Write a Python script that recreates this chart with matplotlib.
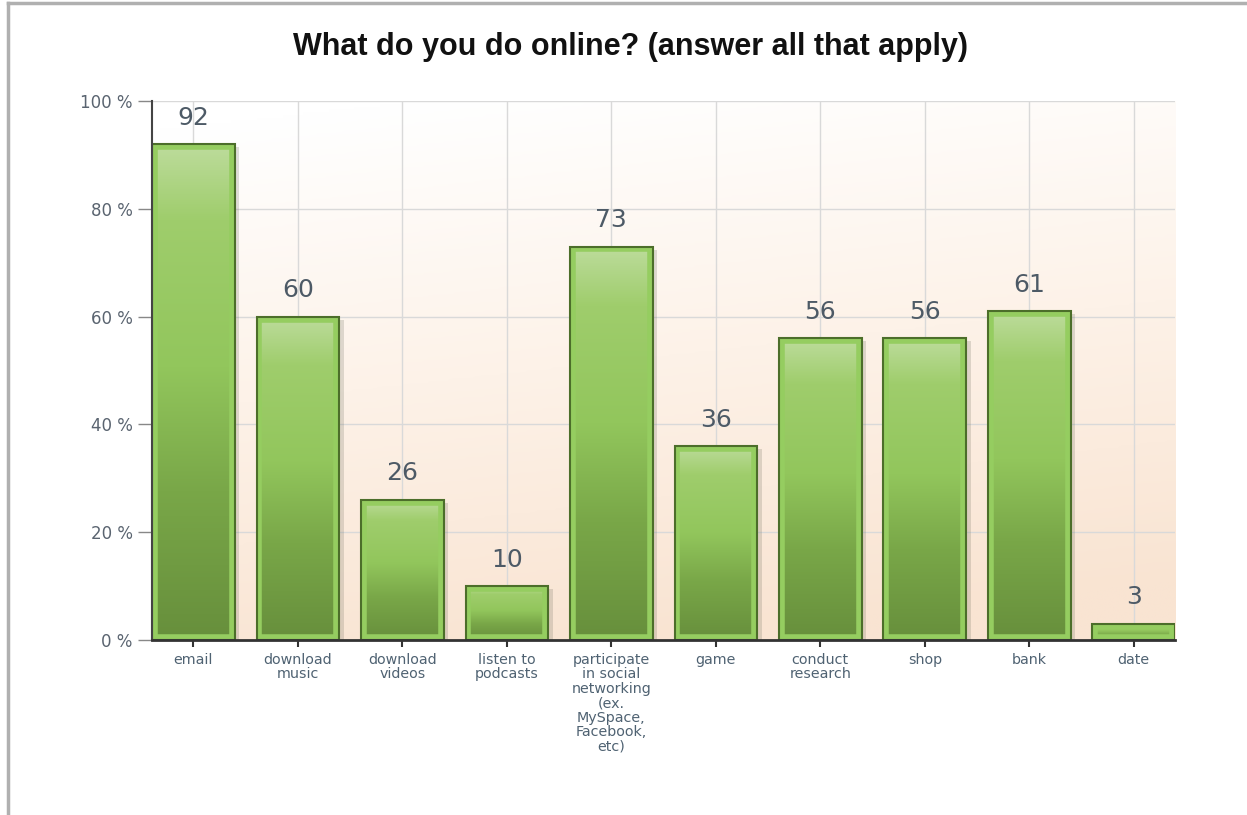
import matplotlib
matplotlib.use("Agg")
import matplotlib.pyplot as plt
import numpy as np
from matplotlib.colors import LinearSegmentedColormap
from matplotlib.patches import Rectangle
from matplotlib.lines import Line2D

categories = [
    "email", "download\nmusic", "download\nvideos", "listen to\npodcasts",
    "participate\nin social\nnetworking\n(ex.\nMySpace,\nFacebook,\netc)",
    "game", "conduct\nresearch", "shop", "bank", "date",
]
values = [92, 60, 26, 10, 73, 36, 56, 56, 61, 3]
y_ticks = [0, 20, 40, 60, 80, 100]
y_tick_labels = ["0 %", "20 %", "40 %", "60 %", "80 %", "100 %"]

fig = plt.figure(figsize=(12.47, 8.15), dpi=100)
fig.patch.set_facecolor("white")
ax = fig.add_axes([0.1219, 0.2147, 0.8204, 0.6614])

x = np.arange(len(categories))
bar_w = 0.79
xmin, xmax = -bar_w / 2, len(categories) - 1 + bar_w / 2
ax.set_xlim(xmin, xmax)
ax.set_ylim(0, 100)

# background: white at top -> peach towards the bottom
yy, xx = np.mgrid[0:1:200j, 0:1:200j]
t = np.clip(0.95 * yy + 0.2 * xx - 0.05, 0, 1)
bg_cmap = LinearSegmentedColormap.from_list("bg", ["#ffffff", "#fdf2e8", "#f9e4d2"])
ax.imshow(t, extent=(xmin, xmax, 100, 0), cmap=bg_cmap, aspect="auto",
          zorder=0, origin="lower")

# grid
for yv in y_ticks[1:]:
    ax.axhline(yv, color="#d9d9d9", lw=1, zorder=1)
for xv in x:
    ax.axvline(xv, color="#d9d9d9", lw=1, zorder=1)

# green gradient bars
bar_cmap = LinearSegmentedColormap.from_list(
    "bar", [(0, "#678f3c"), (0.3, "#79a748"), (0.55, "#92c65c"), (0.85, "#9fcd6c"), (1, "#bddc9c")])
grad = np.linspace(0, 1, 256).reshape(-1, 1)
dx, dy = 0.028, 0.55  # inset of the light inner border (~3px)
for xi, v in zip(x, values):
    x0, x1 = xi - bar_w / 2, xi + bar_w / 2
    ax.add_patch(Rectangle((x0 + 0.045, 0), bar_w, v - 0.6, facecolor="#6e6e5e",
                           alpha=0.22, lw=0, zorder=2))
    ax.imshow(grad, extent=(x0, x1, 0, v), cmap=bar_cmap, aspect="auto",
              origin="lower", zorder=3)
    ax.add_patch(Rectangle((x0 + dx, dy), bar_w - 2 * dx, v - 2 * dy,
                           facecolor="none", edgecolor="#95cd60", lw=4, zorder=4))
    ax.add_patch(Rectangle((x0, 0), bar_w, v, facecolor="none",
                           edgecolor="#4c6e2a", lw=1.5, zorder=5))
    ax.text(xi, v + 3.6, str(v), ha="center", va="baseline", fontsize=18,
            color="#4d5a66", family="DejaVu Sans", zorder=6)

ax.set_xticks(x)
ax.set_xticklabels(categories, fontsize=10.3, color="#4f6272",
                   family="DejaVu Sans", linespacing=1.05)
ax.set_yticks(y_ticks)
ax.set_yticklabels(y_tick_labels, fontsize=12, color="#5a6470",
                   family="DejaVu Sans")
ax.tick_params(axis="x", length=5, width=1.5, color="#333333", pad=4)
ax.tick_params(axis="y", length=10, width=1, color="#888888", pad=4)

for side in ["top", "right"]:
    ax.spines[side].set_visible(False)
ax.spines["left"].set_color("#444444")
ax.spines["left"].set_linewidth(1.5)
ax.spines["bottom"].set_color("#333333")
ax.spines["bottom"].set_linewidth(2)
ax.spines["left"].set_zorder(7)
ax.spines["bottom"].set_zorder(7)

fig.text(0.506, 0.942, "What do you do online? (answer all that apply)",
         ha="center", va="center", fontsize=22, fontweight="bold",
         family="Liberation Sans", color="#111111")

# outer frame lines
fig.add_artist(Line2D([0.0065, 1], [0.996, 0.996], color="#b0b0b0", lw=2.5,
                      transform=fig.transFigure))
fig.add_artist(Line2D([0.0065, 0.0065], [0, 0.996], color="#b0b0b0", lw=2.5,
                      transform=fig.transFigure))

fig.savefig("out.png", dpi=100)
